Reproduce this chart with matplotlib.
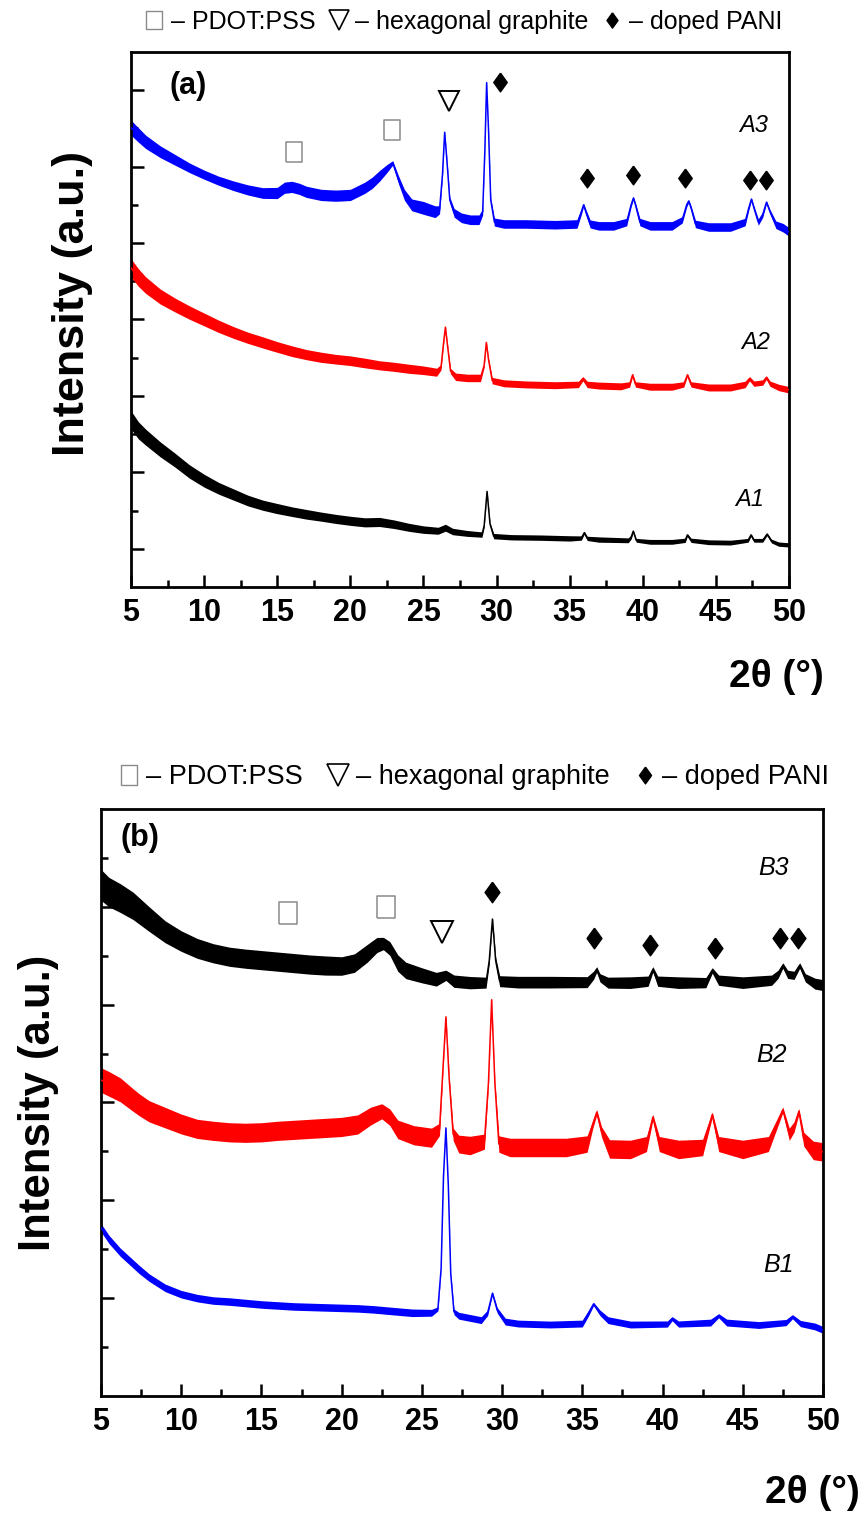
import matplotlib
matplotlib.use("Agg")
import matplotlib.pyplot as plt
from matplotlib.lines import Line2D
import numpy as np

plt.rcParams['font.family'] = ['Liberation Sans', 'DejaVu Sans']

# ---------------- Panel (a) data ----------------
a3_x = [5.0, 5.5, 6.0, 7.0, 8.0, 9.0, 10.0, 11.0, 12.0, 13.0,
        14.0, 15.0, 15.5, 16.0, 16.5, 17.0, 18.0, 19.0, 20.0, 21.0,
        21.5, 22.0, 22.5, 22.9, 23.3, 23.7, 24.2, 25.0, 25.8, 26.1,
        26.3, 26.45, 26.6, 26.8, 27.1, 27.6, 28.2, 28.8, 29.05, 29.2,
        29.32, 29.45, 29.6, 29.85, 30.5, 32.0, 34.0, 35.5, 35.8, 35.95,
        36.1, 36.4, 37.0, 38.0, 38.9, 39.2, 39.36, 39.5, 39.8, 40.5,
        42.0, 42.7, 43.0, 43.14, 43.3, 43.6, 44.5, 46.0, 47.0, 47.25,
        47.43, 47.6, 47.9, 48.2, 48.46, 48.7, 49.1, 49.6, 50.0]
a3_y = [12.02, 11.83, 11.65, 11.39, 11.18, 10.97, 10.79, 10.63, 10.50, 10.39,
        10.31, 10.31, 10.45, 10.47, 10.42, 10.34, 10.26, 10.24, 10.26, 10.45,
        10.58, 10.76, 10.95, 11.10, 10.65, 10.26, 10.00, 9.92, 9.82, 9.87,
        10.79, 11.90, 11.18, 10.13, 9.79, 9.66, 9.61, 9.61, 9.82, 11.44,
        13.20, 11.96, 10.13, 9.55, 9.50, 9.50, 9.48, 9.50, 9.82, 10.00,
        9.82, 9.50, 9.45, 9.45, 9.55, 10.00, 10.18, 10.00, 9.55, 9.45,
        9.45, 9.61, 10.00, 10.10, 9.92, 9.50, 9.42, 9.42, 9.55, 9.92,
        10.15, 9.92, 9.55, 9.74, 10.07, 9.82, 9.48, 9.40, 9.29]
a3_noise = [0.28, 0.27, 0.25, 0.22, 0.20, 0.18, 0.17, 0.17, 0.18, 0.19,
            0.20, 0.21, 0.21, 0.21, 0.21, 0.21, 0.21, 0.21, 0.21, 0.21,
            0.21, 0.20, 0.15, 0.08, 0.15, 0.20, 0.22, 0.24, 0.22, 0.15,
            0.08, 0.04, 0.06, 0.10, 0.16, 0.18, 0.18, 0.18, 0.12, 0.06,
            0.03, 0.05, 0.08, 0.15, 0.16, 0.16, 0.16, 0.16, 0.10, 0.06,
            0.10, 0.15, 0.16, 0.16, 0.14, 0.08, 0.05, 0.08, 0.14, 0.16,
            0.16, 0.12, 0.08, 0.05, 0.08, 0.14, 0.16, 0.16, 0.14, 0.08,
            0.05, 0.08, 0.12, 0.10, 0.05, 0.08, 0.14, 0.16, 0.16]

a2_x = [5.0, 5.5, 6.0, 7.0, 8.0, 9.0, 10.0, 11.0, 12.0, 13.0,
        14.0, 15.0, 16.0, 17.0, 18.0, 19.0, 20.0, 21.0, 22.0, 23.0,
        24.0, 25.0, 25.9, 26.2, 26.35, 26.5, 26.65, 26.85, 27.2, 28.0,
        28.9, 29.15, 29.3, 29.45, 29.7, 30.5, 32.0, 34.0, 35.6, 35.9,
        36.2, 37.0, 38.5, 39.1, 39.3, 39.5, 40.5, 42.0, 42.8, 43.05,
        43.3, 44.5, 46.0, 47.0, 47.3, 47.6, 48.2, 48.45, 48.7, 49.3,
        50.0]
a2_y = [8.35, 8.10, 7.90, 7.60, 7.38, 7.18, 7.00, 6.82, 6.66, 6.52,
        6.40, 6.28, 6.17, 6.08, 6.01, 5.96, 5.92, 5.86, 5.80, 5.76,
        5.71, 5.67, 5.62, 5.75, 6.30, 6.80, 6.30, 5.65, 5.50, 5.47,
        5.47, 5.80, 6.40, 5.95, 5.40, 5.33, 5.30, 5.28, 5.30, 5.45,
        5.30, 5.27, 5.25, 5.30, 5.55, 5.30, 5.24, 5.24, 5.30, 5.55,
        5.30, 5.22, 5.22, 5.30, 5.45, 5.32, 5.35, 5.48, 5.32, 5.22,
        5.16]
a2_noise = [0.34, 0.33, 0.31, 0.28, 0.26, 0.25, 0.24, 0.23, 0.22, 0.21,
            0.21, 0.20, 0.20, 0.19, 0.19, 0.18, 0.18, 0.18, 0.17, 0.17,
            0.17, 0.16, 0.15, 0.10, 0.06, 0.04, 0.06, 0.10, 0.14, 0.14,
            0.14, 0.08, 0.04, 0.06, 0.12, 0.13, 0.13, 0.13, 0.12, 0.08,
            0.12, 0.13, 0.13, 0.10, 0.06, 0.10, 0.13, 0.13, 0.10, 0.06,
            0.10, 0.13, 0.13, 0.12, 0.08, 0.10, 0.10, 0.07, 0.10, 0.12,
            0.12]

a1_x = [5.0, 5.5, 6.0, 7.0, 8.0, 9.0, 10.0, 11.0, 12.0, 13.0,
        14.0, 15.0, 16.0, 17.0, 18.0, 19.0, 20.0, 21.0, 22.0, 23.0,
        24.0, 25.0, 26.0, 26.5, 27.0, 28.0, 29.0, 29.15, 29.35, 29.55,
        29.8, 31.0, 33.0, 35.0, 35.8, 36.0, 36.2, 37.0, 39.0, 39.2,
        39.35, 39.55, 40.5, 42.0, 42.9, 43.05, 43.3, 44.5, 46.0, 47.2,
        47.4, 47.6, 48.2, 48.5, 48.8, 49.3, 50.0]
a1_y = [4.37, 4.10, 3.92, 3.60, 3.32, 3.02, 2.78, 2.58, 2.42, 2.26,
        2.14, 2.05, 1.97, 1.90, 1.84, 1.78, 1.73, 1.69, 1.70, 1.64,
        1.56, 1.50, 1.47, 1.55, 1.45, 1.40, 1.37, 1.60, 2.50, 1.65,
        1.33, 1.30, 1.29, 1.27, 1.28, 1.42, 1.27, 1.24, 1.22, 1.30,
        1.46, 1.22, 1.18, 1.18, 1.22, 1.36, 1.22, 1.17, 1.16, 1.22,
        1.36, 1.22, 1.22, 1.38, 1.20, 1.12, 1.10]
a1_noise = [0.34, 0.32, 0.30, 0.28, 0.26, 0.25, 0.24, 0.22, 0.21, 0.20,
            0.19, 0.19, 0.18, 0.18, 0.17, 0.17, 0.17, 0.17, 0.17, 0.16,
            0.15, 0.14, 0.13, 0.13, 0.12, 0.11, 0.10, 0.06, 0.03, 0.06,
            0.10, 0.10, 0.10, 0.10, 0.08, 0.05, 0.08, 0.10, 0.09, 0.07,
            0.04, 0.07, 0.09, 0.09, 0.08, 0.05, 0.08, 0.09, 0.09, 0.07,
            0.05, 0.07, 0.07, 0.05, 0.07, 0.08, 0.08]

# ---------------- Panel (b) data ----------------
b3_x = [5.0, 5.5, 6.2, 7.0, 8.0, 9.0, 10.0, 11.0, 12.0, 13.0,
        14.0, 15.0, 16.0, 17.0, 18.0, 19.0, 20.0, 20.8, 21.6, 22.2,
        22.6, 23.0, 23.5, 24.0, 25.0, 25.9, 26.5, 27.0, 28.0, 29.0,
        29.2, 29.4, 29.6, 29.85, 31.0, 33.0, 35.3, 35.7, 35.9, 36.1,
        36.6, 38.0, 39.1, 39.4, 39.7, 41.0, 42.7, 43.1, 43.5, 45.0,
        46.8, 47.2, 47.5, 47.8, 48.2, 48.55, 48.9, 49.5, 50.0]
b3_y = [10.45, 10.30, 10.18, 10.02, 9.75, 9.49, 9.30, 9.15, 9.05, 8.98,
        8.94, 8.91, 8.88, 8.85, 8.82, 8.80, 8.79, 8.85, 9.05, 9.22,
        9.25, 9.15, 8.85, 8.70, 8.60, 8.52, 8.60, 8.48, 8.45, 8.45,
        8.90, 9.75, 8.90, 8.48, 8.46, 8.46, 8.46, 8.60, 8.72, 8.55,
        8.45, 8.45, 8.48, 8.72, 8.48, 8.45, 8.45, 8.70, 8.50, 8.45,
        8.50, 8.62, 8.80, 8.62, 8.60, 8.80, 8.55, 8.43, 8.40]
b3_noise = [0.45, 0.43, 0.42, 0.40, 0.36, 0.32, 0.30, 0.29, 0.28, 0.28,
            0.28, 0.28, 0.28, 0.28, 0.28, 0.28, 0.27, 0.27, 0.26, 0.22,
            0.18, 0.20, 0.24, 0.24, 0.22, 0.20, 0.15, 0.18, 0.18, 0.16,
            0.10, 0.04, 0.10, 0.16, 0.17, 0.17, 0.16, 0.12, 0.08, 0.12,
            0.16, 0.17, 0.15, 0.08, 0.15, 0.17, 0.15, 0.08, 0.15, 0.17,
            0.15, 0.12, 0.08, 0.12, 0.12, 0.08, 0.12, 0.16, 0.16]

b2_x = [5.0, 5.5, 6.2, 7.0, 7.4, 8.0, 9.0, 10.0, 11.0, 12.0,
        13.0, 14.0, 15.0, 16.0, 17.0, 18.0, 19.0, 20.0, 21.0, 21.8,
        22.5, 23.0, 23.5, 24.5, 25.6, 26.1, 26.3, 26.5, 26.7, 26.95,
        27.3, 28.0, 28.9, 29.15, 29.35, 29.55, 29.8, 30.5, 32.0, 34.0,
        35.3, 35.65, 35.9, 36.2, 36.7, 38.0, 39.0, 39.4, 39.8, 41.0,
        42.5, 43.1, 43.5, 45.0, 46.6, 47.5, 47.9, 48.2, 48.5, 48.8,
        49.4, 50.0]
b2_y = [6.46, 6.38, 6.26, 6.05, 5.95, 5.82, 5.69, 5.56, 5.46, 5.42,
        5.39, 5.38, 5.39, 5.42, 5.44, 5.46, 5.48, 5.50, 5.55, 5.72,
        5.82, 5.70, 5.45, 5.33, 5.28, 5.45, 6.60, 7.75, 6.50, 5.35,
        5.15, 5.12, 5.20, 6.40, 8.10, 6.40, 5.15, 5.08, 5.08, 5.08,
        5.15, 5.55, 5.80, 5.40, 5.05, 5.04, 5.15, 5.70, 5.15, 5.04,
        5.08, 5.75, 5.15, 5.04, 5.15, 5.85, 5.35, 5.50, 5.82, 5.25,
        5.02, 4.99]
b2_noise = [0.36, 0.36, 0.35, 0.33, 0.32, 0.31, 0.30, 0.29, 0.28, 0.28,
            0.28, 0.28, 0.28, 0.28, 0.28, 0.28, 0.28, 0.28, 0.28, 0.26,
            0.22, 0.24, 0.27, 0.28, 0.28, 0.18, 0.08, 0.04, 0.08, 0.18,
            0.26, 0.27, 0.22, 0.08, 0.04, 0.08, 0.24, 0.27, 0.27, 0.27,
            0.24, 0.12, 0.08, 0.15, 0.27, 0.27, 0.22, 0.08, 0.22, 0.27,
            0.24, 0.08, 0.22, 0.27, 0.22, 0.08, 0.18, 0.15, 0.08, 0.20,
            0.27, 0.27]

b1_x = [5.0, 5.5, 6.2, 7.0, 7.4, 8.0, 9.0, 10.0, 11.0, 12.0,
        13.0, 14.0, 15.0, 16.0, 17.0, 18.0, 19.0, 20.0, 21.0, 22.0,
        23.0, 24.4, 25.6, 26.0, 26.2, 26.35, 26.5, 26.65, 26.8, 27.0,
        27.3, 28.7, 29.1, 29.4, 29.7, 30.2, 31.0, 33.0, 35.0, 35.4,
        35.7, 36.1, 36.6, 38.0, 40.3, 40.6, 41.0, 43.0, 43.5, 44.0,
        46.0, 47.7, 48.1, 48.6, 49.5, 50.0]
b1_y = [3.44, 3.20, 2.94, 2.70, 2.58, 2.42, 2.21, 2.08, 2.00, 1.95,
        1.93, 1.90, 1.87, 1.85, 1.83, 1.82, 1.81, 1.80, 1.79, 1.77,
        1.74, 1.70, 1.70, 1.78, 2.60, 4.50, 5.48, 4.30, 2.50, 1.72,
        1.64, 1.55, 1.70, 2.10, 1.75, 1.52, 1.48, 1.46, 1.48, 1.70,
        1.88, 1.70, 1.55, 1.46, 1.47, 1.58, 1.47, 1.50, 1.64, 1.50,
        1.45, 1.50, 1.62, 1.48, 1.42, 1.35]
b1_noise = [0.12, 0.12, 0.12, 0.12, 0.12, 0.11, 0.11, 0.11, 0.11, 0.11,
            0.11, 0.11, 0.11, 0.11, 0.11, 0.11, 0.11, 0.11, 0.11, 0.11,
            0.11, 0.11, 0.10, 0.06, 0.03, 0.02, 0.02, 0.02, 0.03, 0.08,
            0.10, 0.10, 0.08, 0.04, 0.08, 0.10, 0.10, 0.10, 0.10, 0.08,
            0.05, 0.08, 0.10, 0.10, 0.09, 0.06, 0.09, 0.10, 0.06, 0.10,
            0.10, 0.09, 0.06, 0.09, 0.10, 0.10]

# ---------------- phase markers ----------------
a_box_x, a_box_y = [16.15, 22.85], [11.39, 11.96]
a_tri_x, a_tri_y = [26.75], [12.72]
a_dia_x = [30.26, 36.18, 39.3, 42.88, 47.33, 48.4]
a_dia_y = [13.22, 10.71, 10.79, 10.71, 10.65, 10.65]

b_box_x, b_box_y = [16.67, 22.74], [9.88, 10.0]
b_tri_x, b_tri_y = [26.23], [9.49]
b_dia_x = [29.38, 35.7, 39.25, 43.27, 47.3, 48.45]
b_dia_y = [10.31, 9.37, 9.22, 9.16, 9.37, 9.37]

a_labels = ["A3", "A2", "A1"]
a_label_xy = [(47.6, 12.09), (47.7, 6.41), (47.3, 2.28)]
b_labels = ["B3", "B2", "B1"]
b_label_xy = [(46.9, 10.8), (46.8, 6.97), (47.2, 2.68)]

legend_labels = ["\u2013 PDOT:PSS", "\u2013 hexagonal graphite", "\u2013 doped PANI"]
x_ticks = [5, 10, 15, 20, 25, 30, 35, 40, 45, 50]

BOX = [(-0.42, -0.5), (0.42, -0.5), (0.42, 0.5), (-0.42, 0.5), (-0.42, -0.5)]
DIA = [(0, 0.5), (0.36, 0), (0, -0.5), (-0.36, 0), (0, 0.5)]
BAND = 0.7   # visual density of the noise band (fraction of the full scatter)

fig = plt.figure(figsize=(8.66, 15.17), dpi=100)
ax_a = fig.add_axes([0.1513, 0.6131, 0.7598, 0.3526])
ax_b = fig.add_axes([0.1166, 0.0798, 0.8337, 0.3869])


def trace(ax, x, y, w, color):
    x = np.asarray(x); y = np.asarray(y); w = np.asarray(w) * BAND
    ax.fill_between(x, y - w, y + w, color=color, lw=0, zorder=2)
    ax.plot(x, y, color=color, lw=1.1, zorder=3)


trace(ax_a, a3_x, a3_y, a3_noise, "#0000ff")
trace(ax_a, a2_x, a2_y, a2_noise, "#ff0000")
trace(ax_a, a1_x, a1_y, a1_noise, "#000000")
trace(ax_b, b3_x, b3_y, b3_noise, "#000000")
trace(ax_b, b2_x, b2_y, b2_noise, "#ff0000")
trace(ax_b, b1_x, b1_y, b1_noise, "#0000ff")


def markers(ax, bx, by, tx, ty, dx, dy, scale):
    ax.plot(bx, by, ls="none", marker=BOX, ms=14.5 * scale, mfc="white",
            mec="#8a8a8a", mew=1.1, zorder=5)
    ax.plot(tx, ty, ls="none", marker="v", ms=15 * scale, mfc="white",
            mec="black", mew=1.4, zorder=5)
    ax.plot(dx, dy, ls="none", marker=DIA, ms=13.5 * scale, color="black", zorder=5)


markers(ax_a, a_box_x, a_box_y, a_tri_x, a_tri_y, a_dia_x, a_dia_y, 1.0)
markers(ax_b, b_box_x, b_box_y, b_tri_x, b_tri_y, b_dia_x, b_dia_y, 1.1)

for lab, (lx, ly) in zip(a_labels, a_label_xy):
    ax_a.text(lx, ly, lab, fontsize=17, style="italic", ha="center", va="center")
for lab, (lx, ly) in zip(b_labels, b_label_xy):
    ax_b.text(lx, ly, lab, fontsize=18, style="italic", ha="center", va="center")

ax_a.text(8.9, 13.1, "(a)", fontsize=22, fontweight="bold", ha="center", va="center")
ax_b.text(7.4, 11.4, "(b)", fontsize=22, fontweight="bold", ha="center", va="center")

for ax, ylim, major, minor in [
        (ax_a, (0, 14), [1, 3, 5, 7, 9, 11, 13], [2, 4, 6, 8, 10, 12]),
        (ax_b, (0, 12), [2, 4, 6, 8, 10], [1, 3, 5, 7, 9, 11])]:
    ax.set_xlim(5, 50)
    ax.set_ylim(*ylim)
    ax.set_xticks(x_ticks)
    ax.set_xticks([7.5, 12.5, 17.5, 22.5, 27.5, 32.5, 37.5, 42.5, 47.5], minor=True)
    ax.set_yticks(major)
    ax.set_yticks(minor, minor=True)
    ax.set_yticklabels([])
    ax.set_xticklabels([str(t) for t in x_ticks], fontsize=22, fontweight="bold")
    ax.tick_params(which="both", direction="in", width=1.8, top=False, right=False)
    ax.tick_params(which="major", length=9, pad=8)
    ax.tick_params(which="minor", length=5)
    for sp in ax.spines.values():
        sp.set_linewidth(2.0)

fig.text(0.9515, 0.5537, "2\u03b8 (\u00b0)", fontsize=28, fontweight="bold",
         ha="right", va="center")
fig.text(0.993, 0.0158, "2\u03b8 (\u00b0)", fontsize=28, fontweight="bold",
         ha="right", va="center")
fig.text(0.0841, 0.800, "Intensity (a.u.)", fontsize=32.5, fontweight="bold",
         rotation=90, ha="center", va="center")
fig.text(0.0449, 0.273, "Intensity (a.u.)", fontsize=31.5, fontweight="bold",
         rotation=90, ha="center", va="center")


def header(y, x, fs, colsp, sc):
    handles = [
        Line2D([], [], ls="none", marker=BOX, ms=13 * sc, mfc="white", mec="#8a8a8a", mew=1.0),
        Line2D([], [], ls="none", marker="v", ms=14 * sc, mfc="white", mec="black", mew=1.2),
        Line2D([], [], ls="none", marker=DIA, ms=11 * sc, color="black"),
    ]
    fig.legend(handles, legend_labels, loc="center", bbox_to_anchor=(x, y), ncol=3,
               frameon=False, fontsize=fs, handlelength=0.8, handletextpad=0.25,
               columnspacing=colsp, borderpad=0, borderaxespad=0)


header(0.9855, 0.535, 18, 0.55, 1.0)
header(0.4878, 0.547, 19.5, 0.9, 1.1)

fig.savefig("out.png", dpi=100)
